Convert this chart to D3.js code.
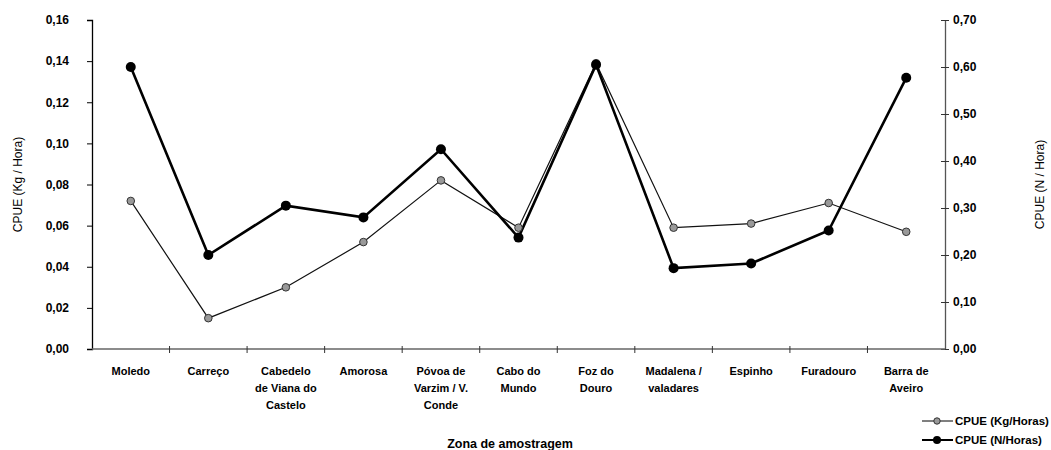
<!DOCTYPE html>
<html>
<head>
<meta charset="utf-8">
<script src="https://cdn.jsdelivr.net/npm/d3@7/dist/d3.min.js"></script>
<style>
  html, body { margin: 0; padding: 0; background: #fff; }
  svg { display: block; font-family: "Liberation Sans", Arial, sans-serif; }
</style>
</head>
<body>
<svg id="chart" width="1051" height="450"></svg>
<script>
// Sampling zones along the coast (line breaks mark label wrapping)
const categories = [
  "Moledo",
  "Carreço",
  "Cabedelo\nde Viana do\nCastelo",
  "Amorosa",
  "Póvoa de\nVarzim / V.\nConde",
  "Cabo do\nMundo",
  "Foz do\nDouro",
  "Madalena /\nvaladares",
  "Espinho",
  "Furadouro",
  "Barra de\nAveiro"
];

// CPUE in kg per hour (left axis)
const cpueKg = [0.072, 0.015, 0.030, 0.052, 0.082, 0.059, 0.139, 0.059, 0.061, 0.071, 0.057];
// CPUE in number of individuals per hour (right axis)
const cpueN = [0.600, 0.200, 0.305, 0.280, 0.425, 0.237, 0.605, 0.172, 0.182, 0.252, 0.577];

const leftTicks = [0, 0.02, 0.04, 0.06, 0.08, 0.10, 0.12, 0.14, 0.16];
const rightTicks = [0, 0.10, 0.20, 0.30, 0.40, 0.50, 0.60, 0.70];

const seriesNames = ["CPUE (Kg/Horas)", "CPUE (N/Horas)"];
const leftTitle = "CPUE (Kg / Hora)";
const rightTitle = "CPUE (N / Hora)";
const xTitle = "Zona de amostragem";

const svg = d3.select("#chart");
const plot = { left: 92, right: 945, top: 20, bottom: 349 };

const x = d3.scaleBand().domain(d3.range(categories.length))
  .range([plot.left, plot.right]).padding(0);
const yL = d3.scaleLinear().domain([0, 0.16]).range([plot.bottom, plot.top]);
const yR = d3.scaleLinear().domain([0, 0.70]).range([plot.bottom, plot.top]);
const fmt = d => d3.format(".2f")(d).replace(".", ",");
const cx = i => x(i) + x.bandwidth() / 2;

// Left axis
const gL = svg.append("g").attr("transform", `translate(${plot.left},0)`)
  .call(d3.axisLeft(yL).tickValues(leftTicks).tickFormat(fmt).tickSize(5).tickPadding(18));
gL.select(".domain").attr("stroke", "#000").attr("stroke-width", 1.3);
gL.selectAll(".tick line").attr("stroke", "#000");
gL.selectAll("text").attr("font-size", 12).attr("font-weight", "bold").attr("fill", "#000");

// Right axis (ticks cross the line)
const gR = svg.append("g").attr("transform", `translate(${plot.right},0)`)
  .call(d3.axisRight(yR).tickValues(rightTicks).tickFormat(fmt).tickSizeInner(4).tickSizeOuter(0).tickPadding(4));
gR.select(".domain").attr("stroke", "#555").attr("stroke-width", 1.3);
gR.selectAll(".tick line").attr("x1", -4).attr("x2", 4).attr("stroke", "#333");
gR.selectAll("text").attr("font-size", 12).attr("font-weight", "bold").attr("fill", "#000");

// Category axis
const gX = svg.append("g").attr("transform", `translate(0,${plot.bottom})`);
gX.append("line").attr("x1", plot.left).attr("x2", plot.right)
  .attr("stroke", "#666").attr("stroke-width", 1.5);
gX.selectAll("line.tk").data(d3.range(1, categories.length)).join("line")
  .attr("class", "tk")
  .attr("x1", i => x(i)).attr("x2", i => x(i)).attr("y1", -3).attr("y2", 4)
  .attr("stroke", "#333");
gX.selectAll("text.cat").data(categories).join("text")
  .attr("class", "cat")
  .attr("text-anchor", "middle")
  .attr("font-size", 11).attr("font-weight", "bold")
  .attr("transform", (d, i) => `translate(${cx(i)},26)`)
  .each(function(d) {
    const t = d3.select(this);
    d.split("\n").forEach((ln, k) => {
      t.append("tspan").attr("x", 0).attr("dy", k === 0 ? 0 : 17).text(ln);
    });
  });

// Axis titles
svg.append("text").attr("transform", `translate(22,${(plot.top + plot.bottom) / 2}) rotate(-90)`)
  .attr("text-anchor", "middle").attr("font-size", 12).text(leftTitle);
svg.append("text").attr("transform", `translate(1044,${(plot.top + plot.bottom) / 2}) rotate(-90)`)
  .attr("text-anchor", "middle").attr("font-size", 12).text(rightTitle);
svg.append("text").attr("x", 510).attr("y", 448)
  .attr("text-anchor", "middle").attr("font-size", 12.5).attr("font-weight", "bold").text(xTitle);

// Kg series: thin line, grey markers
const lineKg = d3.line().x((d, i) => cx(i)).y(d => yL(d));
svg.append("path").datum(cpueKg).attr("d", lineKg)
  .attr("fill", "none").attr("stroke", "#111").attr("stroke-width", 1.2);

// N series: heavy line, black markers
const lineN = d3.line().x((d, i) => cx(i)).y(d => yR(d));
svg.append("path").datum(cpueN).attr("d", lineN)
  .attr("fill", "none").attr("stroke", "#000").attr("stroke-width", 2.6);

svg.append("g").selectAll("circle").data(cpueKg).join("circle")
  .attr("cx", (d, i) => cx(i)).attr("cy", d => yL(d)).attr("r", 3.8)
  .attr("fill", "#999").attr("stroke", "#333").attr("stroke-width", 1);

svg.append("g").selectAll("circle").data(cpueN).join("circle")
  .attr("cx", (d, i) => cx(i)).attr("cy", d => yR(d)).attr("r", 5)
  .attr("fill", "#000");

// Legend
const leg = svg.append("g");
[0, 1].forEach(k => {
  const y = 421 + k * 19;
  leg.append("line").attr("x1", 922).attr("x2", 953).attr("y1", y).attr("y2", y)
    .attr("stroke", "#000").attr("stroke-width", k === 0 ? 1 : 2);
  if (k === 0) {
    leg.append("circle").attr("cx", 937).attr("cy", y).attr("r", 3.2)
      .attr("fill", "#999").attr("stroke", "#333");
  } else {
    leg.append("circle").attr("cx", 937).attr("cy", y).attr("r", 4).attr("fill", "#000");
  }
  leg.append("text").attr("x", 955).attr("y", y + 4).attr("font-size", 11.5)
    .attr("font-weight", "bold").text(seriesNames[k]);
});
</script>
</body>
</html>
